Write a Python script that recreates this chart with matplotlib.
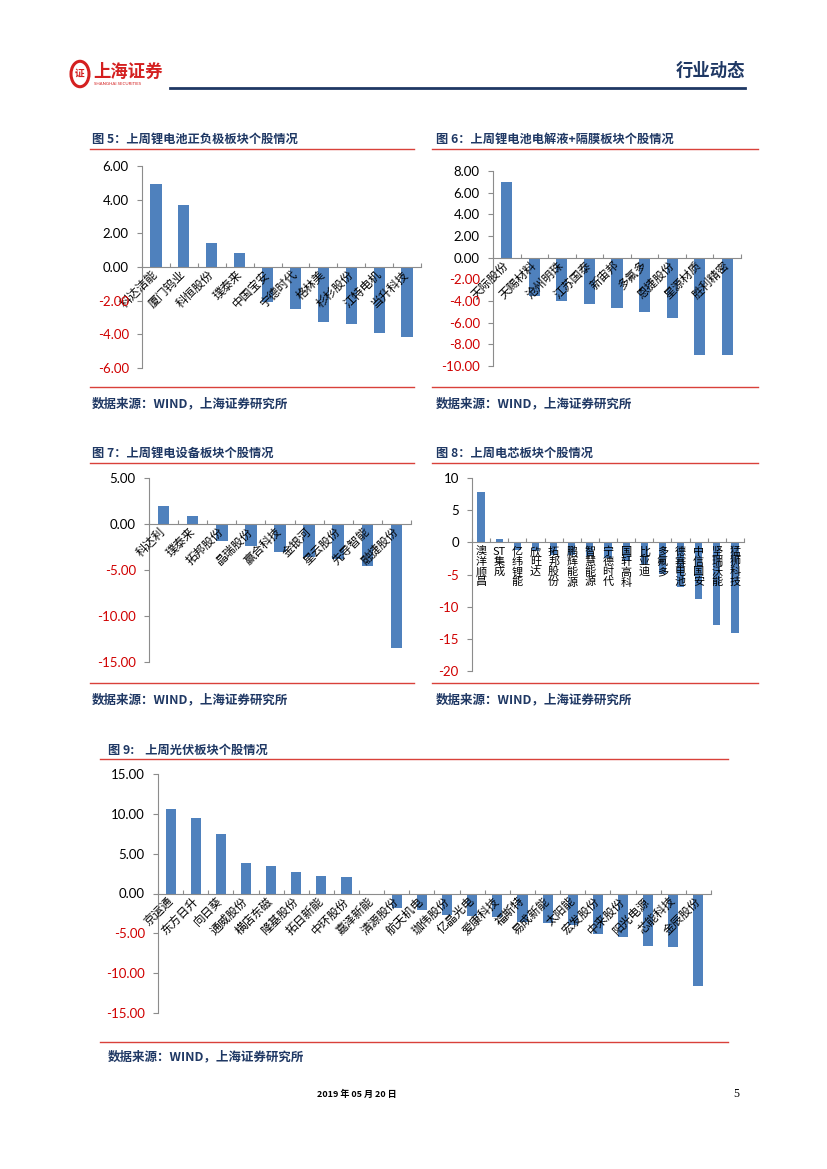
import matplotlib
matplotlib.use("Agg")
import matplotlib.pyplot as plt
from matplotlib.lines import Line2D
from matplotlib.patches import Circle
import numpy as np

W, H = 827, 1169

CJK = ["Noto Sans CJK SC", "DejaVu Sans"]
NUM = ["Lato", "DejaVu Sans"]
BAR = "#4F81BD"
NAVY = "#1F3864"
RED = "#D00000"
LINE_RED = "#D9413A"
GRAY = "#8C8C8C"

# ---------- data ----------
c5_names = ["科达洁能", "厦门钨业", "科恒股份", "璞泰来", "中国宝安",
            "宁德时代", "格林美", "杉杉股份", "江特电机", "当升科技"]
c5_vals = [4.95, 3.68, 1.42, 0.82, -2.10, -2.50, -3.28, -3.40, -3.95, -4.18]

c6_names = ["天际股份", "天赐材料", "沧州明珠", "江苏国泰", "新宙邦",
            "多氟多", "恩捷股份", "星源材质", "胜利精密"]
c6_vals = [7.00, -3.57, -3.96, -4.27, -4.68, -4.99, -5.60, -8.95, -9.00]

c7_names = ["科达利", "璞泰来", "拓邦股份", "晶瑞股份", "赢合科技",
            "金银河", "星云股份", "先导智能", "融捷股份"]
c7_vals = [1.98, 0.82, -1.90, -2.40, -3.06, -3.60, -3.80, -4.60, -13.44]

c8_names = ["澳洋顺昌", "ST集成", "亿纬锂能", "欣旺达", "拓邦股份",
            "鹏辉能源", "智慧能源", "宁德时代", "国轩高科", "比亚迪",
            "多氟多", "德赛电池", "中信国安", "坚瑞沃能", "猛狮科技"]
c8_vals = [7.85, 0.52, -1.15, -1.30, -1.90, -2.00, -2.10, -2.50, -2.90,
           -3.40, -4.99, -7.00, -8.80, -12.80, -14.10]

c9_names = ["京运通", "东方日升", "向日葵", "通威股份", "横店东磁",
            "隆基股份", "拓日新能", "中环股份", "嘉泽新能", "清源股份",
            "航天机电", "珈伟股份", "亿晶光电", "爱康科技", "福斯特",
            "易成新能", "太阳能", "宏发股份", "中来股份", "阳光电源",
            "芯能科技", "金辰股份"]
c9_vals = [10.60, 9.48, 7.47, 3.82, 3.48, 2.69, 2.22, 2.06, 0.00, -1.84,
           -2.10, -2.64, -2.85, -2.98, -3.60, -3.68, -3.93, -5.03, -5.45,
           -6.62, -6.70, -11.65]

c5_ticks = [6, 4, 2, 0, -2, -4, -6]
c6_ticks = [8, 6, 4, 2, 0, -2, -4, -6, -8, -10]
c7_ticks = [5, 0, -5, -10, -15]
c8_ticks = [10, 5, 0, -5, -10, -15, -20]
c9_ticks = [15, 10, 5, 0, -5, -10, -15]

fig = plt.figure(figsize=(W / 100, H / 100), dpi=100)


def fx(x):
    return x / W


def fy(y):
    return 1 - y / H


def hline(x0, x1, y, color, lw):
    fig.add_artist(Line2D([fx(x0), fx(x1)], [fy(y), fy(y)],
                          color=color, lw=lw, transform=fig.transFigure))


def bar_panel(left, top, right, bottom, names, vals, ticks, fmt,
              vertical=False):
    ax = fig.add_axes([fx(left), fy(bottom), (right - left) / W,
                       (bottom - top) / H])
    x = np.arange(len(vals))
    ax.set_axisbelow(False)
    ax.bar(x, vals, width=0.4, color=BAR, zorder=1)
    ax.set_xlim(-0.5, len(vals) - 0.5)
    ax.set_ylim(min(ticks), max(ticks))
    ax.set_yticks(ticks)
    ax.set_yticklabels([fmt.format(t) for t in ticks], fontfamily=NUM,
                       fontsize=9.5)
    for lab, t in zip(ax.get_yticklabels(), ticks):
        lab.set_color(RED if t < 0 else "black")
    for s in ["top", "right"]:
        ax.spines[s].set_visible(False)
    ax.spines["left"].set_color(GRAY)
    ax.spines["bottom"].set_color(GRAY)
    ax.spines["bottom"].set_position(("data", 0))
    ax.tick_params(axis="y", length=3.5, color=GRAY, width=0.8, pad=6)
    ax.set_xticks(x)
    ax.set_xticks(np.arange(len(vals) + 1) - 0.5, minor=True)
    ax.tick_params(axis="x", which="minor", length=3, direction="in",
                   color=GRAY, width=0.8)
    if vertical:
        labels = []
        for n in names:
            if n.startswith("ST"):
                labels.append("ST\n" + "\n".join(n[2:]))
            else:
                labels.append("\n".join(n))
        ax.set_xticklabels(labels, fontfamily=CJK, fontsize=8,
                           linespacing=1.0, va="top")
        ax.tick_params(axis="x", which="major", length=0, pad=3)
    else:
        ax.set_xticklabels(names, fontfamily=CJK, fontsize=8.5,
                           rotation=45, ha="right", va="center",
                           rotation_mode="anchor")
        ax.tick_params(axis="x", which="major", length=0, pad=4)
    ax.patch.set_alpha(0)
    return ax


def section(x0, x1, y_title, y_line, y_bottom, y_src, title, tx):
    fig.text(fx(tx), fy(y_title), title, fontfamily=CJK, fontsize=8.8,
             fontweight="bold", color=NAVY, va="center", ha="left")
    hline(x0, x1, y_line, LINE_RED, 1.0)
    hline(x0, x1, y_bottom, LINE_RED, 1.0)
    fig.text(fx(tx), fy(y_src), "数据来源：WIND，上海证券研究所",
             fontfamily=CJK, fontsize=9, fontweight="bold",
             fontstyle="italic", color=NAVY, va="center", ha="left")


# ---------- header ----------
fig.add_artist(Circle((fx(80), fy(74)), 9 / W, transform=fig.transFigure,
                      facecolor="white", edgecolor="#D42020", lw=2.2))
fig.text(fx(80), fy(74), "证", fontfamily=CJK, fontsize=7, color="#D42020",
         fontweight="bold", ha="center", va="center")
fig.text(fx(93), fy(72), "上海证券", fontfamily=CJK, fontsize=12.5,
         fontweight="bold", color="#D42020", ha="left", va="center")
fig.text(fx(94), fy(84), "SHANGHAI SECURITIES", fontfamily=NUM, fontsize=3.2,
         color="#D42020", ha="left", va="center")
fig.text(fx(745), fy(71), "行业动态", fontfamily=CJK, fontsize=12.5,
         fontweight="bold", color=NAVY, ha="right", va="center")
hline(170, 745, 88, NAVY, 2.0)

# ---------- panels ----------
section(90, 414, 139, 148.5, 387, 404, "图 5：上周锂电池正负极板块个股情况", 92)
section(432, 758, 139, 148.5, 387, 404, "图 6：上周锂电池电解液+隔膜板块个股情况", 436)
section(90, 414, 453, 463, 683, 700, "图 7：上周锂电设备板块个股情况", 92)
section(432, 758, 453, 463, 683, 700, "图 8：上周电芯板块个股情况", 436)
section(100, 728, 750, 759, 1042, 1057, "图 9:    上周光伏板块个股情况", 108)

bar_panel(142, 166, 421, 368, c5_names, c5_vals, c5_ticks, "{:.2f}")
bar_panel(493, 171, 741, 366, c6_names, c6_vals, c6_ticks, "{:.2f}")
bar_panel(149, 478, 411, 662, c7_names, c7_vals, c7_ticks, "{:.2f}")
bar_panel(472, 478, 744, 671, c8_names, c8_vals, c8_ticks, "{:.0f}",
          vertical=True)
bar_panel(158, 774, 711, 1013, c9_names, c9_vals, c9_ticks, "{:.2f}")

# ---------- footer ----------
fig.text(fx(357), fy(1094), "2019 年 05 月 20 日", fontfamily=CJK,
         fontsize=6.5, fontweight="bold", ha="center", va="center")
fig.text(fx(736), fy(1094), "5", fontfamily=["Liberation Serif"],
         fontsize=8.5, ha="center", va="center")

fig.savefig("out.png", dpi=100)
